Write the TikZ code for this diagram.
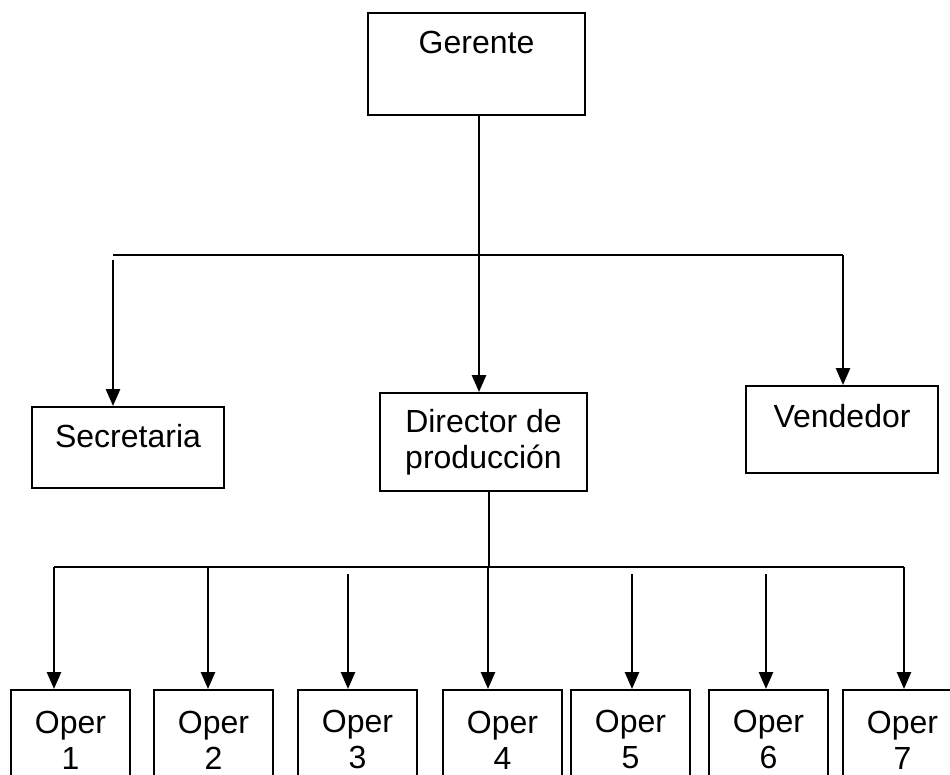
\documentclass[tikz,border=0pt]{standalone}
\usepackage{fontspec}
\setmainfont{Liberation Sans}
\usetikzlibrary{arrows.meta}

\begin{document}
\begin{tikzpicture}[x=1pt,y=-1pt,
	font=\fontsize{32}{36}\selectfont,
	box/.style={draw,line width=1.9pt,inner sep=0pt,align=center},
	wire/.style={line width=2.1pt},
	arr/.style={line width=2.6pt,-{Triangle[width=14pt,length=17pt]}}]
\useasboundingbox (0,0) rectangle (950,774);
\node[box,minimum width=217pt,text height=40pt,text depth=62pt] (ger) at (476.5,64) {Gerente};
\node[box,minimum width=192pt,text height=40pt,text depth=41pt] (sec) at (128,447.5) {Secretaria};
\node[box,minimum width=207pt,minimum height=98pt] (dir) at (483.5,442) {Director de\\producción};
\node[box,minimum width=192pt,text height=41pt,text depth=46pt] (ven) at (842,429.5) {Vendedor};
\coordinate (b1) at (479,255);
\coordinate (s1) at (113,255);
\coordinate (v1) at (843,255);
\coordinate (b2) at (489,567);
\draw[wire] (s1) -- (v1);
\draw[wire] (ger.south -| b1) -- (b1);
\draw[arr] (b1) -- (b1 |- dir.north);
\draw[arr] ([yshift=-5pt]s1) -- (s1 |- sec.north);
\draw[arr] (v1) -- (v1 |- ven.north);
\draw[wire] (dir.south -| b2) -- (b2);
% operarios
\foreach \i/\bx/\ax/\gap in {1/10/54/0pt,2/153/208/0pt,3/297/348/7pt,4/442/488/0pt,5/570/632/7pt,6/708/766/7pt,7/842/904/0pt}{
	\node[box,anchor=north west,minimum width=119pt,minimum height=100pt] (op\i) at (\bx,689) {Oper\\\i};
	\coordinate (e\i) at (\ax,567);
	\draw[arr] ([yshift=-\gap]e\i) -- (e\i |- op\i.north);
}
\draw[wire] (e1) -- (e7);
\end{tikzpicture}
\end{document}
